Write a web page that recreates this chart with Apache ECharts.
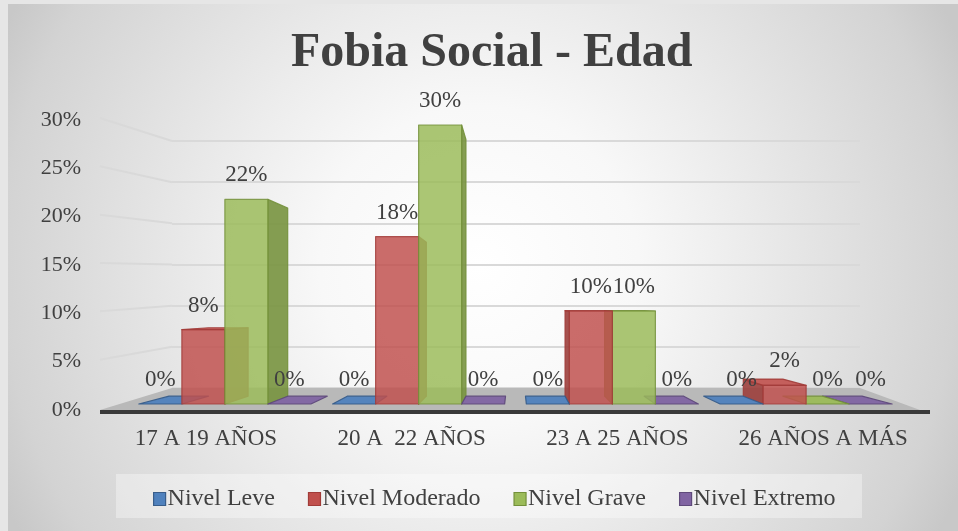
<!DOCTYPE html>
<html>
<head>
<meta charset="utf-8">
<script src="https://cdn.jsdelivr.net/npm/echarts@6/dist/echarts.min.js"></script>
<style>
  html, body { margin: 0; padding: 0; background: #e4e4e4; }
  #chart { width: 958px; height: 531px; }
</style>
</head>
<body>
<div id="chart"></div>
<script>
// Age groups and the share of each social-phobia level within them
const categories = ['17 A 19 AÑOS', '20 A  22 AÑOS', '23 A 25 AÑOS', '26 AÑOS A MÁS'];
const nivelLeve = [0, 0, 0, 0];
const nivelModerado = [0.08, 0.18, 0.10, 0.02];
const nivelGrave = [0.22, 0.30, 0.10, 0];
const nivelExtremo = [0, 0, 0, 0];
const seriesNames = ['Nivel Leve', 'Nivel Moderado', 'Nivel Grave', 'Nivel Extremo'];
const valueTicks = [0, 0.05, 0.10, 0.15, 0.20, 0.25, 0.30];

const FONT = '"Liberation Serif", "Times New Roman", serif';
const TEXT = '#404040';

// palette: base, side face, edge
const palette = [
  { base: '#4f81bd', side: '#3b6596', edge: '#385d8a' },
  { base: '#c0504d', side: '#9c3f3c', edge: '#a13c39' },
  { base: '#9bbb59', side: '#78933f', edge: '#73903a' },
  { base: '#8064a2', side: '#634c80', edge: '#5f4a7b' }
];

// pseudo-3D projection parameters
const DEPTH = 0.08;          // fraction of the way toward the vanishing point
const HORIZON_VALUE = 0.105; // value level of the horizon on the front plane
const BAR_RATIO = 0.222;     // single bar width relative to the category band

const pct = v => Math.round(v * 100) + '%';

function renderBar(params, api) {
  const si = params.seriesIndex;
  const cat = api.value(0);
  const v = api.value(1);
  const base = api.coord([cat, 0]);
  const top = api.coord([cat, v]);
  const horizon = api.coord([cat, HORIZON_VALUE])[1];
  const band = api.size([1, 0])[0];
  const cs = params.coordSys;
  const vp = [cs.x + cs.width / 2, horizon];
  const w = band * BAR_RATIO;
  const x0 = base[0] - 2 * w + si * w;
  const x1 = x0 + w;
  const yb = base[1];
  const yt = top[1];
  const back = p => [p[0] + DEPTH * (vp[0] - p[0]), p[1] + DEPTH * (vp[1] - p[1])];
  const col = palette[si];
  const z2 = Math.round(1000 - Math.abs((x0 + x1) / 2 - vp[0]));
  const children = [];
  const face = (pts, fill, op) => children.push({
    type: 'polygon',
    shape: { points: pts },
    style: { fill: fill, opacity: op, stroke: col.edge, lineWidth: 1.2, lineJoin: 'round' },
    z2: z2
  });
  const ft0 = [x0, yt], ft1 = [x1, yt], fb0 = [x0, yb], fb1 = [x1, yb];
  const bt0 = back(ft0), bt1 = back(ft1), bb0 = back(fb0), bb1 = back(fb1);
  if (v > 0) {
    if (x1 < vp[0]) face([ft1, bt1, bb1, fb1], col.side, 0.9);
    if (x0 > vp[0]) face([ft0, bt0, bb0, fb0], col.side, 0.9);
    if (yt > vp[1]) face([ft0, ft1, bt1, bt0], col.base, 0.9);
    face([ft0, ft1, fb1, fb0], col.base, 0.84);
  } else {
    face([ft0, ft1, bt1, bt0], col.base, 0.95);
  }
  children.push({
    type: 'text',
    style: {
      text: pct(v), x: (x0 + x1) / 2, y: yt - 24,
      align: 'center', verticalAlign: 'middle',
      fill: TEXT, font: '23px ' + FONT
    },
    z2: 3000
  });
  return { type: 'group', children: children };
}

const seriesData = [nivelLeve, nivelModerado, nivelGrave, nivelExtremo];

const chart = echarts.init(document.getElementById('chart'));
const option = {
  animation: false,
  backgroundColor: {
    type: 'radial', x: 0.5, y: 0.5, r: 1.0,
    colorStops: [
      { offset: 0, color: '#ffffff' },
      { offset: 0.3, color: '#f8f8f8' },
      { offset: 0.5, color: '#ececec' },
      { offset: 0.9, color: '#d3d3d3' },
      { offset: 1, color: '#c8c8c8' }
    ]
  },
  title: {
    text: 'Fobia Social - Edad',
    left: 286, top: 25,
    textStyle: { fontFamily: FONT, fontSize: 48, fontWeight: 'bold', color: TEXT }
  },
  legend: {
    data: seriesNames.map((n, i) => ({
      name: n,
      itemStyle: { color: palette[i].base, borderColor: palette[i].edge, borderWidth: 1.2 }
    })),
    left: 148, top: 482,
    icon: 'rect', itemWidth: 12, itemHeight: 13, itemGap: 33,
    textStyle: { fontFamily: FONT, fontSize: 24, color: TEXT, padding: [0, 0, 0, -3] }
  },
  grid: [
    // axis labels frame
    { left: 103, right: 32, top: 120, bottom: 121 },
    // front plane of the bars
    { left: 128, right: 55, top: 125, bottom: 127 },
    // back wall with gridlines
    { left: 172, right: 98, top: 141, bottom: 143 }
  ],
  xAxis: [
    {
      gridIndex: 0, type: 'category', data: categories,
      axisLine: { show: false }, axisTick: { show: false },
      axisLabel: { interval: 0, margin: 17, fontFamily: FONT, fontSize: 23, color: TEXT }
    },
    { gridIndex: 1, type: 'category', data: categories, show: false },
    { gridIndex: 2, type: 'category', data: categories, show: false }
  ],
  yAxis: [
    {
      gridIndex: 0, type: 'value', min: 0, max: 0.3, interval: 0.05,
      axisLine: { show: false }, axisTick: { show: false }, splitLine: { show: false },
      axisLabel: { margin: 22, fontFamily: FONT, fontSize: 22, color: TEXT, formatter: v => pct(v) }
    },
    { gridIndex: 1, type: 'value', min: 0, max: 0.3, show: false, splitLine: { show: false } },
    {
      gridIndex: 2, type: 'value', min: 0, max: 0.3, interval: 0.05,
      axisLine: { show: false }, axisTick: { show: false }, axisLabel: { show: false },
      splitLine: { show: true, lineStyle: { color: '#d9d9d9', width: 2 } }
    }
  ],
  series: seriesData.map((d, i) => ({
    name: seriesNames[i],
    type: 'custom',
    xAxisIndex: 1, yAxisIndex: 1,
    itemStyle: { color: palette[i].base },
    renderItem: renderBar,
    data: d.map((v, k) => [k, v]),
    z: 5
  }))
};
chart.setOption(option);

// Side wall gridlines, floor and the chart frame, placed from the axis scales
const labelY = v => chart.convertToPixel({ yAxisIndex: 0 }, v);
const wallY = v => chart.convertToPixel({ yAxisIndex: 2 }, v);
const wallLeft = 172, wallRight = 958 - 98;
const frontLeft = 100, frontRight = 930;
const gfx = [];
valueTicks.slice(1).forEach(v => {
  gfx.push({
    type: 'polyline', z: 1,
    shape: { points: [[frontLeft, labelY(v) - 2], [wallLeft, wallY(v)]] },
    style: { stroke: '#d9d9d9', lineWidth: 2, fill: null }
  });
});
const floorBack = wallY(0);
gfx.push({
  type: 'polygon', z: 2,
  shape: { points: [[frontLeft, floorBack + 22], [wallLeft, floorBack], [wallRight, floorBack], [frontRight - 10, floorBack + 22]] },
  style: { fill: '#b9b9b9' }
});
gfx.push({
  type: 'rect', z: 3,
  shape: { x: frontLeft, y: floorBack + 22, width: frontRight - frontLeft, height: 4 },
  style: { fill: '#3a3a3a' }
});
gfx.push({
  type: 'rect', z: 0,
  shape: { x: 116, y: 474, width: 746, height: 44 },
  style: { fill: 'rgba(255,255,255,0.35)' }
});
gfx.push({ type: 'rect', z: 0, shape: { x: 0, y: 0, width: 8, height: 531 }, style: { fill: '#e6e6e6' } });
gfx.push({ type: 'rect', z: 0, shape: { x: 0, y: 0, width: 958, height: 4 }, style: { fill: '#e6e6e6' } });
chart.setOption({ graphic: gfx });
</script>
</body>
</html>
